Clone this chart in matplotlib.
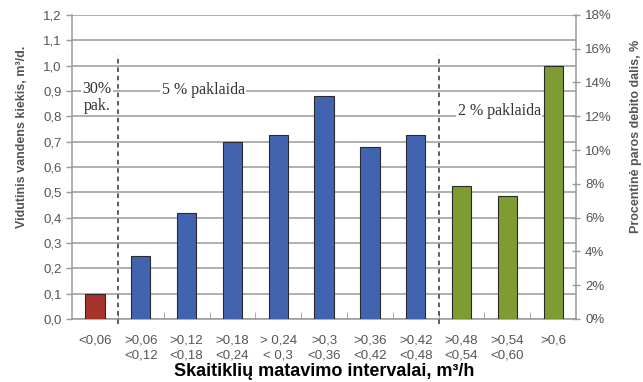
import matplotlib

matplotlib.use("Agg")
import matplotlib.pyplot as plt
import numpy as np

plt.rcParams["font.family"] = ["Liberation Sans", "DejaVu Sans"]

# ---------------------------------------------------------------------------
# Data
# ---------------------------------------------------------------------------
CATEGORIES = [
    "<0,06", ">0,06\n<0,12", ">0,12\n<0,18", ">0,18\n<0,24", "> 0,24\n< 0,3",
    ">0,3\n<0,36", ">0,36\n<0,42", ">0,42\n<0,48", ">0,48\n<0,54", ">0,54\n<0,60", ">0,6",
]
VOLUMES = [0.098, 0.25, 0.42, 0.70, 0.725, 0.88, 0.68, 0.725, 0.525, 0.485, 1.0]
GROUPS = ["30", "5", "5", "5", "5", "5", "5", "5", "2", "2", "2"]

GROUP_COLORS = {"30": "#a8322c", "5": "#4264b0", "2": "#7f9b34"}
GRAY = "#555555"
GRID = "#9a9a9a"
NOTE = "#333333"

# ---------------------------------------------------------------------------
# Plot
# ---------------------------------------------------------------------------
fig = plt.figure(figsize=(6.43, 3.82), dpi=100)
ax = fig.add_axes([0.112, 0.165, 0.784, 0.796])

x = np.arange(len(CATEGORIES))
colors = [GROUP_COLORS[g] for g in GROUPS]
ax.bar(x, VOLUMES, width=0.42, color=colors, edgecolor="#2a2a2a", linewidth=0.8, zorder=3)

ax.set_xlim(-0.5, len(CATEGORIES) - 0.5)
ax.set_ylim(0, 1.2)
yt = np.arange(0, 1.21, 0.1)
ax.set_yticks(yt)
ax.set_yticklabels([f"{v:.1f}".replace(".", ",") for v in yt], color=GRAY, fontsize=9.5)
ax.yaxis.grid(True, color=GRID, linewidth=1.1, zorder=0)
ax.set_axisbelow(True)

ax.set_xticks(x)
ax.set_xticklabels(CATEGORIES, color=GRAY, fontsize=9.5, linespacing=1.35)
ax.tick_params(axis="x", length=0, pad=11)
ax.set_xticks(np.arange(0.5, len(CATEGORIES) - 1, 1), minor=True)
ax.tick_params(axis="x", which="minor", length=5, direction="in", color=GRID)
ax.tick_params(axis="y", length=4, color=GRID, width=1)

for side in ("left", "right", "bottom"):
    ax.spines[side].set_color(GRID)
    ax.spines[side].set_linewidth(1.1)
ax.spines["top"].set_visible(False)

ax.set_ylabel("Vidutinis vandens kiekis, m³/d.", color=GRAY, fontsize=9, fontweight="bold")
ax.yaxis.set_label_coords(-0.088, 0.60)
ax.set_xlabel("Skaitiklių matavimo intervalai, m³/h", fontsize=13, fontweight="bold")
ax.xaxis.set_label_coords(0.5, -0.145)

# separators between tolerance groups
for xb in (0.5, 7.5):
    ax.plot([xb, xb], [-0.02, 1.04], linestyle=(0, (3, 2.5)), color=NOTE,
            linewidth=1.1, clip_on=False, zorder=4)

box = dict(facecolor="white", edgecolor="none", pad=1)
ax.text(0.05, 0.875, "30%\npak.", family="Liberation Serif", fontsize=11.5, color=NOTE,
        ha="center", va="center", linespacing=1.1, bbox=box, zorder=5)
ax.text(2.36, 0.905, "5 % paklaida", family="Liberation Serif", fontsize=11.5, color=NOTE,
        ha="center", va="center", bbox=box, zorder=5)
ax.text(8.82, 0.82, "2 % paklaida", family="Liberation Serif", fontsize=11.5, color=NOTE,
        ha="center", va="center", bbox=box, zorder=5)

# secondary axis: share of daily flow
ax2 = ax.twinx()
ax2.set_ylim(0, 18)
rt = np.arange(0, 19, 2)
ax2.set_yticks(rt)
ax2.set_yticklabels([f"{v}%" for v in rt], color=GRAY, fontsize=9.5)
ax2.tick_params(axis="y", length=6, direction="inout", color=GRID, width=1)
for side in ("left", "right", "bottom", "top"):
    ax2.spines[side].set_visible(False)
ax2.set_ylabel("Procentinė paros debito dalis, %", color=GRAY, fontsize=9, fontweight="bold")
ax2.yaxis.set_label_coords(1.106, 0.60)

fig.savefig("out.png", dpi=100)
